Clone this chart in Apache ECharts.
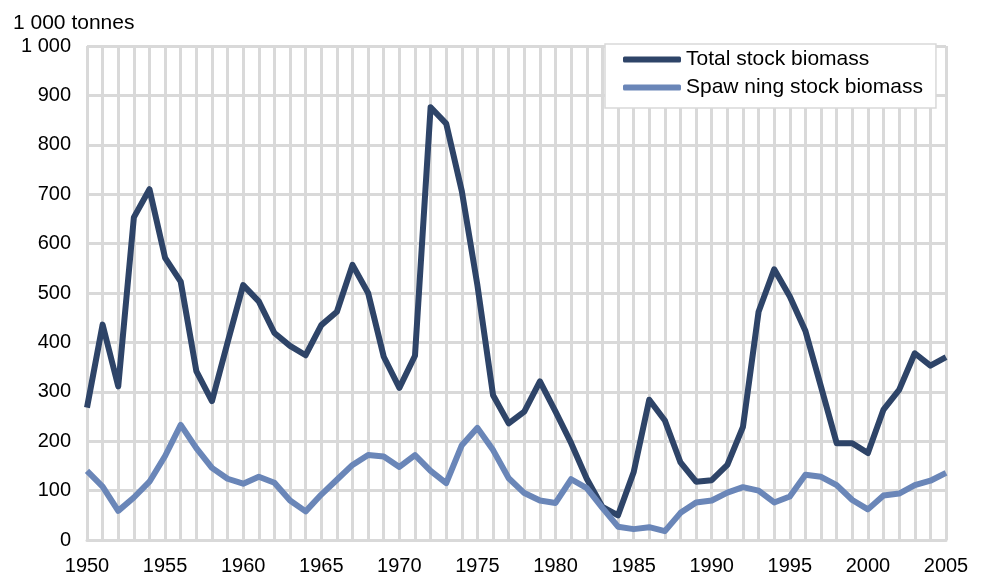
<!DOCTYPE html>
<html>
<head>
<meta charset="utf-8">
<script src="https://cdn.jsdelivr.net/npm/echarts@6/dist/echarts.min.js"></script>
<style>
  html, body { margin: 0; padding: 0; background: #fff; }
  #chart { width: 984px; height: 577px; }
</style>
</head>
<body>
<div id="chart"></div>
<script>
// years 1950-2005
const years = []
for (let y = 1950; y <= 2005; y++) years.push(String(y))

// 1 000 tonnes
const totalStock = [
  268, 436, 311, 653, 710, 571, 523, 342, 281, 400,
  516, 483, 419, 393, 374, 435, 462, 557, 500, 371,
  308, 373, 876, 843, 706, 515, 293, 236, 260, 321,
  260, 196, 124, 67, 50, 137, 284, 242, 157, 118,
  121, 152, 229, 462, 548, 493, 423, 310, 196, 196,
  176, 264, 304, 378, 353, 370
]
const spawningStock = [
  140, 108, 59, 86, 118, 170, 233, 186, 146, 124,
  114, 128, 116, 80, 58, 92, 122, 152, 172, 169,
  148, 172, 140, 115, 192, 227, 182, 125, 95, 80,
  75, 123, 105, 65, 27, 22, 26, 18, 55, 76,
  80, 96, 107, 100, 76, 88, 132, 128, 111, 81,
  62, 90, 94, 111, 120, 136
]

const seriesNames = ['Total stock biomass', 'Spaw ning stock biomass']
const colors = ['#2e4468', '#6a86b8']
const gridColor = '#d9d9d9'
const font = '"Liberation Sans", Arial, sans-serif'

const chart = echarts.init(document.getElementById('chart'))

chart.setOption({
  animation: false,
  backgroundColor: '#fff',
  textStyle: { fontFamily: font },
  title: {
    text: '1 000 tonnes',
    left: 8,
    top: 8,
    textStyle: { fontFamily: font, fontSize: 21, fontWeight: 'normal', color: '#000' },
  },
  grid: { left: 87, right: 38, top: 46, bottom: 37 },
  legend: {
    orient: 'vertical',
    left: 605,
    top: 44,
    padding: [5, 13, 10, 18],
    itemGap: 7,
    itemWidth: 58,
    itemHeight: 6,
    icon: 'roundRect',
    backgroundColor: '#fff',
    borderColor: gridColor,
    borderWidth: 1.5,
    textStyle: { fontFamily: font, fontSize: 21, color: '#000' },
    data: seriesNames,
  },
  xAxis: {
    type: 'category',
    data: years,
    boundaryGap: false,
    axisLine: { lineStyle: { color: gridColor, width: 3 } },
    axisTick: { show: false },
    axisLabel: { interval: 4, color: '#000', fontSize: 20, fontFamily: font, margin: 16 },
    splitLine: { show: true, interval: 0, lineStyle: { color: gridColor, width: 3 } },
  },
  yAxis: {
    type: 'value',
    min: 0,
    max: 1000,
    interval: 100,
    axisLine: { show: false },
    axisTick: { show: false },
    axisLabel: {
      color: '#000',
      fontSize: 20,
      fontFamily: font,
      margin: 16,
      formatter: (v) => (v === 1000 ? '1 000' : String(v)),
    },
    splitLine: { lineStyle: { color: gridColor, width: 3 } },
  },
  series: [
    {
      name: seriesNames[0],
      type: 'line',
      data: totalStock,
      symbol: 'none',
      color: colors[0],
      lineStyle: { color: colors[0], width: 6, join: 'round' },
    },
    {
      name: seriesNames[1],
      type: 'line',
      data: spawningStock,
      symbol: 'none',
      color: colors[1],
      lineStyle: { color: colors[1], width: 6, join: 'round' },
    },
  ],
})
</script>
</body>
</html>
